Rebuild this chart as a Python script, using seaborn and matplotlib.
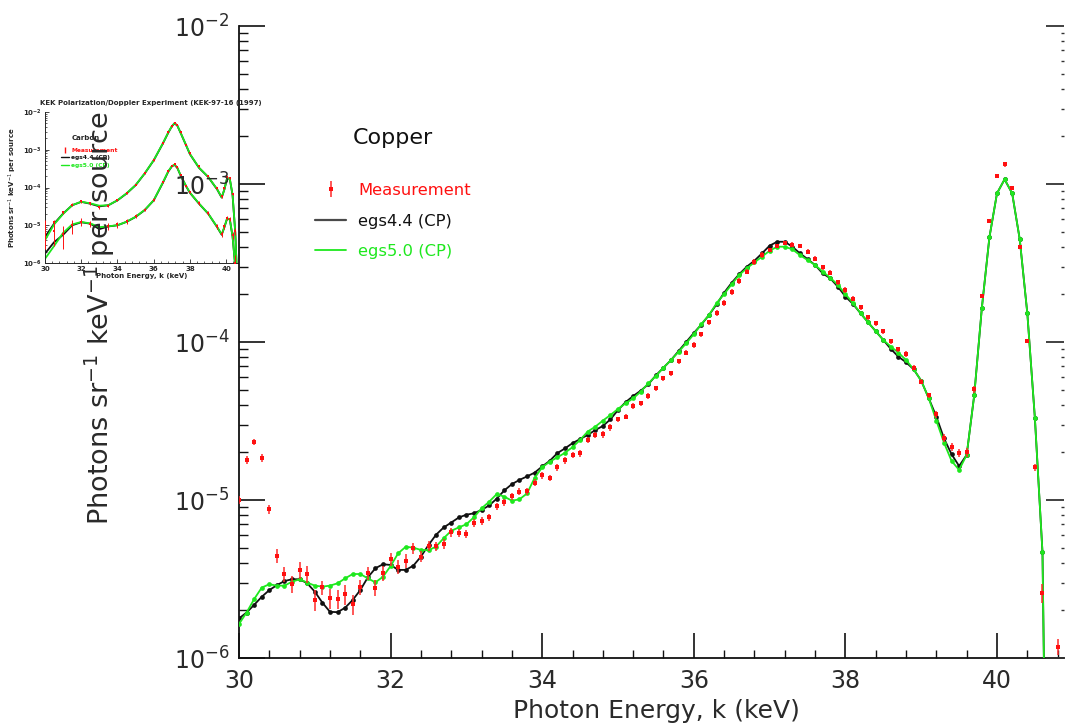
import numpy as np
import pandas as pd
import matplotlib
matplotlib.use("Agg")
import matplotlib.pyplot as plt
import seaborn as sns
from matplotlib.ticker import FixedLocator, LogLocator, NullFormatter, LogFormatterSciNotation
from matplotlib.lines import Line2D

# ---------------- main panel data (Copper) ----------------
sim_energy = [
    30.0, 30.1, 30.2, 30.3, 30.4, 30.5, 30.6, 30.7, 30.8, 30.9,
    31.0, 31.1, 31.2, 31.3, 31.4, 31.5, 31.6, 31.7, 31.8, 31.9,
    32.0, 32.1, 32.2, 32.3, 32.4, 32.5, 32.6, 32.7, 32.8, 32.9,
    33.0, 33.1, 33.2, 33.3, 33.4, 33.5, 33.6, 33.7, 33.8, 33.9,
    34.0, 34.1, 34.2, 34.3, 34.4, 34.5, 34.6, 34.7, 34.8, 34.9,
    35.0, 35.1, 35.2, 35.3, 35.4, 35.5, 35.6, 35.7, 35.8, 35.9,
    36.0, 36.1, 36.2, 36.3, 36.4, 36.5, 36.6, 36.7, 36.8, 36.9,
    37.0, 37.1, 37.2, 37.3, 37.4, 37.5, 37.6, 37.7, 37.8, 37.9,
    38.0, 38.1, 38.2, 38.3, 38.4, 38.5, 38.6, 38.7, 38.8, 38.9,
    39.0, 39.1, 39.2, 39.3, 39.4, 39.5, 39.6, 39.7, 39.8, 39.9,
    40.0, 40.1, 40.2, 40.3, 40.4, 40.5, 40.6, 40.7]

egs44_flux = [
    1.78e-6, 1.94e-6, 2.17e-6, 2.44e-6, 2.69e-6, 2.89e-6, 3.07e-6, 3.15e-6, 3.15e-6, 2.97e-6,
    2.63e-6, 2.24e-6, 1.96e-6, 1.95e-6, 2.08e-6, 2.33e-6, 2.69e-6, 3.24e-6, 3.70e-6, 3.92e-6,
    3.88e-6, 3.61e-6, 3.61e-6, 3.84e-6, 4.38e-6, 5.19e-6, 6.03e-6, 6.70e-6, 7.20e-6, 7.75e-6,
    8.07e-6, 8.24e-6, 8.65e-6, 9.23e-6, 1.02e-5, 1.15e-5, 1.26e-5, 1.34e-5, 1.41e-5, 1.49e-5,
    1.63e-5, 1.77e-5, 1.98e-5, 2.12e-5, 2.29e-5, 2.43e-5, 2.58e-5, 2.77e-5, 2.94e-5, 3.24e-5,
    3.71e-5, 4.16e-5, 4.55e-5, 4.92e-5, 5.40e-5, 6.15e-5, 6.88e-5, 7.69e-5, 8.77e-5, 1.00e-4,
    1.14e-4, 1.29e-4, 1.48e-4, 1.73e-4, 2.05e-4, 2.37e-4, 2.69e-4, 3.00e-4, 3.27e-4, 3.64e-4,
    4.07e-4, 4.31e-4, 4.31e-4, 4.01e-4, 3.64e-4, 3.35e-4, 3.07e-4, 2.72e-4, 2.53e-4, 2.24e-4,
    1.94e-4, 1.74e-4, 1.52e-4, 1.33e-4, 1.17e-4, 1.03e-4, 9.03e-5, 8.07e-5, 7.44e-5, 6.72e-5,
    5.69e-5, 4.40e-5, 3.37e-5, 2.46e-5, 1.95e-5, 1.64e-5, 1.93e-5, 4.62e-5, 1.64e-4, 4.60e-4,
    8.73e-4, 1.07e-3, 8.73e-4, 4.47e-4, 1.52e-4, 3.29e-5, 4.67e-6, 1.0e-9]

egs50_flux = [
    1.64e-6, 1.94e-6, 2.36e-6, 2.79e-6, 2.93e-6, 2.87e-6, 2.87e-6, 3.04e-6, 3.15e-6, 3.00e-6,
    2.87e-6, 2.83e-6, 2.87e-6, 2.97e-6, 3.19e-6, 3.40e-6, 3.40e-6, 3.19e-6, 3.01e-6, 3.27e-6,
    3.82e-6, 4.60e-6, 5.06e-6, 4.99e-6, 4.83e-6, 4.81e-6, 5.07e-6, 5.73e-6, 6.38e-6, 6.71e-6,
    7.02e-6, 7.78e-6, 8.86e-6, 9.75e-6, 1.09e-5, 1.05e-5, 9.90e-6, 1.01e-5, 1.10e-5, 1.38e-5,
    1.61e-5, 1.75e-5, 1.86e-5, 1.99e-5, 2.16e-5, 2.40e-5, 2.71e-5, 2.91e-5, 3.18e-5, 3.45e-5,
    3.77e-5, 4.09e-5, 4.40e-5, 4.85e-5, 5.48e-5, 6.09e-5, 6.88e-5, 7.69e-5, 8.68e-5, 9.81e-5,
    1.12e-4, 1.30e-4, 1.48e-4, 1.76e-4, 2.01e-4, 2.32e-4, 2.66e-4, 2.93e-4, 3.19e-4, 3.47e-4,
    3.78e-4, 4.01e-4, 4.01e-4, 3.86e-4, 3.55e-4, 3.30e-4, 3.07e-4, 2.79e-4, 2.55e-4, 2.30e-4,
    2.01e-4, 1.76e-4, 1.52e-4, 1.33e-4, 1.17e-4, 1.03e-4, 9.34e-5, 8.56e-5, 7.69e-5, 6.72e-5,
    5.69e-5, 4.40e-5, 3.18e-5, 2.31e-5, 1.77e-5, 1.55e-5, 1.93e-5, 4.62e-5, 1.64e-4, 4.60e-4,
    8.73e-4, 1.07e-3, 8.73e-4, 4.47e-4, 1.52e-4, 3.29e-5, 4.67e-6, 1.0e-9]

meas_energy = [
    30.0, 30.1, 30.2, 30.3, 30.4, 30.5, 30.6, 30.7, 30.8, 30.9,
    31.0, 31.1, 31.2, 31.3, 31.4, 31.5, 31.6, 31.7, 31.8, 31.9,
    32.0, 32.1, 32.2, 32.3, 32.4, 32.5, 32.6, 32.7, 32.8, 32.9,
    33.0, 33.1, 33.2, 33.3, 33.4, 33.5, 33.6, 33.7, 33.8, 33.9,
    34.0, 34.1, 34.2, 34.3, 34.4, 34.5, 34.6, 34.7, 34.8, 34.9,
    35.0, 35.1, 35.2, 35.3, 35.4, 35.5, 35.6, 35.7, 35.8, 35.9,
    36.0, 36.1, 36.2, 36.3, 36.4, 36.5, 36.6, 36.7, 36.8, 36.9,
    37.0, 37.1, 37.2, 37.3, 37.4, 37.5, 37.6, 37.7, 37.8, 37.9,
    38.0, 38.1, 38.2, 38.3, 38.4, 38.5, 38.6, 38.7, 38.8, 38.9,
    39.0, 39.1, 39.2, 39.3, 39.4, 39.5, 39.6, 39.7, 39.8, 39.9,
    40.0, 40.1, 40.2, 40.3, 40.4, 40.5, 40.6, 40.7, 40.8]

meas_flux = [
    1.00e-5, 1.79e-5, 2.33e-5, 1.84e-5, 8.73e-6, 4.44e-6, 3.40e-6, 2.94e-6, 3.61e-6, 3.40e-6,
    2.33e-6, 2.80e-6, 2.39e-6, 2.36e-6, 2.53e-6, 2.19e-6, 2.80e-6, 3.44e-6, 2.79e-6, 3.44e-6,
    4.21e-6, 3.78e-6, 4.13e-6, 4.95e-6, 4.38e-6, 5.11e-6, 5.08e-6, 5.28e-6, 6.23e-6, 6.16e-6,
    6.12e-6, 7.15e-6, 7.40e-6, 7.75e-6, 9.12e-6, 9.67e-6, 1.06e-5, 1.13e-5, 1.14e-5, 1.29e-5,
    1.43e-5, 1.38e-5, 1.61e-5, 1.79e-5, 1.93e-5, 1.98e-5, 2.40e-5, 2.58e-5, 2.60e-5, 2.88e-5,
    3.24e-5, 3.37e-5, 3.93e-5, 4.09e-5, 4.55e-5, 5.09e-5, 5.89e-5, 6.34e-5, 7.55e-5, 8.56e-5,
    9.57e-5, 1.12e-4, 1.33e-4, 1.53e-4, 1.77e-4, 2.08e-4, 2.44e-4, 2.79e-4, 3.21e-4, 3.55e-4,
    3.82e-4, 4.05e-4, 4.23e-4, 4.14e-4, 4.05e-4, 3.73e-4, 3.36e-4, 2.98e-4, 2.75e-4, 2.39e-4,
    2.13e-4, 1.88e-4, 1.66e-4, 1.43e-4, 1.31e-4, 1.17e-4, 1.01e-4, 8.97e-5, 8.40e-5, 6.88e-5,
    5.62e-5, 4.59e-5, 3.50e-5, 2.46e-5, 2.17e-5, 1.98e-5, 2.00e-5, 5.02e-5, 1.96e-4, 5.86e-4,
    1.13e-3, 1.33e-3, 9.39e-4, 3.98e-4, 1.02e-4, 1.61e-5, 2.59e-6, 8.0e-7, 1.18e-6]

# relative uncertainty of each measurement, percent
meas_err_pct = [
    6, 6, 5, 6, 7, 10, 11, 12, 12, 12,
    15, 10, 14, 14, 14, 15, 11, 9, 12, 11,
    9, 10, 10, 8, 8, 7, 7, 7, 6, 6,
    6, 6, 6, 5, 5, 5, 5, 5, 5, 5,
    5, 5, 5, 5, 5, 5, 5, 5, 5, 5,
    4, 4, 4, 4, 4, 4, 4, 4, 4, 4,
    4, 4, 4, 4, 4, 4, 4, 4, 4, 4,
    3.5, 3.5, 3.5, 3.5, 3.5, 3.5, 3.5, 3.5, 3.5, 3.5,
    4, 4, 4, 4, 4, 4, 4, 4, 4, 4,
    4, 4, 5, 6, 6, 6, 6, 5, 3, 3,
    3, 3, 3, 3, 3, 5, 14, 12, 12]

# ---------------- inset data (Carbon) ----------------
c_energy = [30.0, 30.5, 31.0, 31.5, 32.0, 32.5, 33.0, 33.5, 34.0, 34.5,
            35.0, 35.5, 36.0, 36.5, 36.8, 37.0, 37.15, 37.3, 37.5, 37.8,
            38.0, 38.5, 39.0, 39.5, 39.75, 39.9, 40.05, 40.2, 40.35, 40.5, 40.65]
c_hi_egs44 = [4.9e-6, 1.10e-5, 2.04e-5, 3.39e-5, 4.17e-5, 3.72e-5, 3.16e-5, 3.39e-5, 4.57e-5, 6.92e-5,
              1.15e-4, 2.34e-4, 5.25e-4, 1.45e-3, 2.82e-3, 4.17e-3, 5.0e-3, 4.37e-3, 2.69e-3, 1.26e-3,
              7.6e-4, 3.31e-4, 1.91e-4, 8.9e-5, 5.4e-5, 8.9e-5, 1.78e-4, 1.66e-4, 6.3e-5, 6.3e-6, 1e-7]
c_hi_egs50 = [4.0e-6, 1.05e-5, 2.0e-5, 3.4e-5, 4.2e-5, 3.8e-5, 3.3e-5, 3.4e-5, 4.6e-5, 7.0e-5,
              1.16e-4, 2.36e-4, 5.3e-4, 1.47e-3, 2.85e-3, 4.2e-3, 5.1e-3, 4.4e-3, 2.7e-3, 1.28e-3,
              7.7e-4, 3.35e-4, 1.93e-4, 9.0e-5, 5.5e-5, 9.0e-5, 1.8e-4, 1.68e-4, 6.4e-5, 6.4e-6, 1e-7]
c_lo_egs44 = [1.78e-6, 3.55e-6, 5.6e-6, 1.0e-5, 1.20e-5, 1.10e-5, 7.9e-6, 9.3e-6, 1.0e-5, 1.23e-5,
              1.66e-5, 2.51e-5, 4.57e-5, 1.32e-4, 2.63e-4, 3.63e-4, 3.98e-4, 3.31e-4, 2.0e-4, 1.05e-4,
              7.2e-5, 3.72e-5, 2.04e-5, 8.9e-6, 5.6e-6, 8.9e-6, 1.51e-5, 1.41e-5, 5.0e-6, 7.9e-7, 1e-8]
c_lo_egs50 = [1.29e-6, 2.82e-6, 6.3e-6, 1.05e-5, 1.22e-5, 1.12e-5, 8.9e-6, 9.4e-6, 1.0e-5, 1.24e-5,
              1.68e-5, 2.55e-5, 4.6e-5, 1.35e-4, 2.68e-4, 3.68e-4, 4.05e-4, 3.35e-4, 2.02e-4, 1.06e-4,
              7.3e-5, 3.75e-5, 2.05e-5, 9.0e-6, 5.7e-6, 9.0e-6, 1.53e-5, 1.43e-5, 5.1e-6, 8.0e-7, 1e-8]
c_hi_meas = [5.2e-6, 1.2e-5, 2.2e-5, 3.5e-5, 4.3e-5, 3.8e-5, 3.0e-5, 3.3e-5, 4.7e-5, 7.2e-5,
             1.2e-4, 2.4e-4, 5.4e-4, 1.5e-3, 2.9e-3, 4.3e-3, 5.2e-3, 4.6e-3, 2.9e-3, 1.35e-3,
             8.2e-4, 3.6e-4, 2.0e-4, 9.5e-5, 5.8e-5, 9.5e-5, 1.9e-4, 1.8e-4, 6.8e-5, 7.0e-6, np.nan]
c_lo_meas = [8.0e-6, 7.0e-6, 6.0e-6, 1.0e-5, 1.25e-5, 1.1e-5, 9.0e-6, 9.5e-6, 1.05e-5, 1.3e-5,
             1.75e-5, 2.6e-5, 4.8e-5, 1.4e-4, 2.7e-4, 3.8e-4, 4.1e-4, 3.5e-4, 2.1e-4, 1.1e-4,
             7.6e-5, 3.9e-5, 2.1e-5, 9.3e-6, 6.0e-6, 9.5e-6, 1.6e-5, 1.5e-5, 5.5e-6, 1.0e-6, np.nan]
c_hi_err_pct = [20, 12, 10, 8, 8, 8, 8, 8, 7, 6, 5, 5, 4, 4, 4, 4, 4, 4, 4, 4,
                4, 5, 5, 6, 8, 6, 5, 5, 8, 20, 20]
c_lo_err_pct = [70, 60, 60, 40, 25, 20, 20, 20, 18, 15, 12, 10, 8, 6, 5, 5, 5, 5, 6, 7,
                8, 10, 12, 15, 20, 15, 12, 12, 20, 60, 60]

# ---------------- styling ----------------
sns.set_style("ticks")
plt.rcParams["font.family"] = ["DejaVu Sans"]
plt.rcParams["mathtext.fontset"] = "dejavusans"
plt.rcParams["axes.unicode_minus"] = False

TXT = "#2a2a2a"
RED = "#ff1010"
GREEN = "#1ee81e"
BLACK = "#111111"
PX = 0.72  # points per pixel at dpi=100

W, H = 1065, 726
fig = plt.figure(figsize=(W / 100, H / 100), dpi=100)

# main axes: spine x 239..1064 px, y 26..658 px
ax = fig.add_axes([239 / W, (H - 658) / H, 825 / W, 632 / H])
ax.set_zorder(2)
ax.patch.set_alpha(0)
ax.set_yscale("log")
ax.set_xlim(30, 30 + 825 / 75.8)
ax.set_ylim(1e-6, 1e-2)

main_sim = pd.DataFrame({"energy": sim_energy, "egs44": egs44_flux, "egs50": egs50_flux})
sns.lineplot(data=main_sim, x="energy", y="egs44", ax=ax, color=BLACK, lw=1.3,
             marker="o", markersize=3.4, markeredgewidth=0, estimator=None, sort=False,
             legend=False, zorder=3)
sns.lineplot(data=main_sim, x="energy", y="egs50", ax=ax, color=GREEN, lw=1.3,
             marker="o", markersize=3.4, markeredgewidth=0, estimator=None, sort=False,
             legend=False, zorder=3.5)
meas = np.array(meas_flux)
meas_err = meas * np.array(meas_err_pct) / 100.0
eb = ax.errorbar(meas_energy, meas, yerr=meas_err, fmt="s", ms=2.2, mew=0, color=RED,
                 ecolor="#ff2828", elinewidth=1.1, capsize=3.6, capthick=1.1, zorder=4)

for s in ["top", "right"]:
    ax.spines[s].set_visible(False)
ax.spines["left"].set_linewidth(1.3)
ax.spines["bottom"].set_linewidth(1.3)
ax.spines["left"].set_color(BLACK)
ax.spines["bottom"].set_color(BLACK)

ax.xaxis.set_major_locator(FixedLocator([30, 32, 34, 36, 38, 40]))
ax.xaxis.set_minor_locator(FixedLocator([30.4, 30.8, 31.2, 31.6, 32.4, 32.8, 33.2, 33.6,
                                         34.4, 34.8, 35.2, 35.6, 36.4, 36.8, 37.2, 37.6,
                                         38.4, 38.8, 39.2, 39.6, 40.4, 40.8]))
ax.yaxis.set_major_locator(LogLocator(base=10, numticks=10))
ax.yaxis.set_minor_locator(LogLocator(base=10, subs=np.arange(2, 10), numticks=20))
ax.yaxis.set_minor_formatter(NullFormatter())
ax.yaxis.set_major_formatter(LogFormatterSciNotation())

ax.tick_params(axis="x", which="major", direction="in", length=25 * PX, width=1.2, color=BLACK,
               labelsize=17, labelcolor=TXT, pad=8, top=False)
ax.tick_params(axis="x", which="minor", direction="in", length=8 * PX, width=1.0, color=BLACK,
               top=False)
ax.tick_params(axis="y", which="major", direction="in", length=26 * PX, width=1.2, color=BLACK,
               labelsize=17, labelcolor=TXT, pad=7, right=False)
ax.tick_params(axis="y", which="minor", direction="in", length=9 * PX, width=1.0, color=BLACK,
               right=False)
ax.set_xlabel("")
ax.set_ylabel("")

# right-hand ticks (shorter) on a twin y axis sharing the same log scale
rax = ax.twinx()
rax.set_zorder(2.5)
rax.patch.set_alpha(0)
rax.set_yscale("log")
rax.set_ylim(1e-6, 1e-2)
for s in rax.spines.values():
    s.set_visible(False)
rax.yaxis.set_major_locator(LogLocator(base=10, numticks=10))
rax.yaxis.set_minor_locator(LogLocator(base=10, subs=np.arange(2, 10), numticks=20))
rax.tick_params(axis="y", which="major", direction="in", length=18 * PX, width=1.3,
                color="#333333", labelright=False, right=True, left=False)
rax.tick_params(axis="y", which="minor", direction="in", length=3 * PX, width=1.0,
                color="#333333", labelright=False, right=True, left=False)

fig.text(656 / W, 1 - 711 / H, "Photon Energy, k (keV)", ha="center", va="center",
         fontsize=18, color=TXT)
fig.text(100 / W, 1 - 318 / H, "Photons sr$^{-1}$ keV$^{-1}$ per source", ha="center",
         va="center", rotation=90, fontsize=19.5, color=TXT, zorder=10)

fig.text(353 / W, 1 - 138 / H, "Copper", ha="left", va="center", fontsize=16, color=BLACK)
h_44 = Line2D([], [], color="#4a4a4a", lw=1.6)
h_50 = Line2D([], [], color=GREEN, lw=1.3)
leg = ax.legend([eb, h_44, h_50], ["Measurement", "egs4.4 (CP)", "egs5.0 (CP)"],
                loc="upper left", bbox_to_anchor=(315 / W, 1 - 183 / H),
                bbox_transform=fig.transFigure, frameon=False, fontsize=11.8,
                handlelength=1.9, handletextpad=0.75, labelspacing=0.95, borderpad=0,
                borderaxespad=0, labelcolor=[RED, BLACK, GREEN])

# ---------------- inset (Carbon) ----------------
ins = fig.add_axes([45 / W, (H - 263) / H, 193 / W, 151 / H])
ins.set_zorder(1)
ins.set_yscale("log")
ins.set_xlim(30, 40.65)
ins.set_ylim(1e-6, 1e-2)
carbon = pd.DataFrame({"energy": c_energy, "hi44": c_hi_egs44, "hi50": c_hi_egs50,
                       "lo44": c_lo_egs44, "lo50": c_lo_egs50})
for col, colr in [("hi44", BLACK), ("lo44", BLACK), ("hi50", GREEN), ("lo50", GREEN)]:
    sns.lineplot(data=carbon, x="energy", y=col, ax=ins, color=colr, lw=1.3,
                 estimator=None, sort=False, legend=False)
for vals, errs in [(c_hi_meas, c_hi_err_pct), (c_lo_meas, c_lo_err_pct)]:
    v = np.array(vals)
    ins.errorbar(c_energy, v, yerr=v * np.array(errs) / 100.0, fmt="s", ms=1.6, mew=0,
                 color=RED, ecolor=RED, elinewidth=0.7, capsize=1.0, zorder=4)
for s in ["top", "right"]:
    ins.spines[s].set_visible(False)
ins.spines["left"].set_linewidth(0.7)
ins.spines["bottom"].set_linewidth(0.7)
ins.xaxis.set_major_locator(FixedLocator([30, 32, 34, 36, 38, 40]))
ins.xaxis.set_minor_locator(FixedLocator([30.4, 30.8, 31.2, 31.6, 32.4, 32.8, 33.2, 33.6,
                                          34.4, 34.8, 35.2, 35.6, 36.4, 36.8, 37.2, 37.6,
                                          38.4, 38.8, 39.2, 39.6, 40.4]))
ins.yaxis.set_major_locator(LogLocator(base=10, numticks=10))
ins.yaxis.set_minor_locator(LogLocator(base=10, subs=np.arange(2, 10), numticks=20))
ins.yaxis.set_minor_formatter(NullFormatter())
ins.tick_params(which="major", direction="in", length=4 * PX, width=0.6, labelsize=5, pad=2)
ins.tick_params(which="minor", direction="in", length=2 * PX, width=0.5)
for lab in ins.get_xticklabels() + ins.get_yticklabels():
    lab.set_fontweight("bold")
ins.set_xlabel("Photon Energy, k (keV)", fontsize=5, fontweight="bold", labelpad=1)
ins.set_ylabel("Photons sr$^{-1}$ keV$^{-1}$ per source", fontsize=5, fontweight="bold",
               labelpad=3)
ins.set_title("KEK Polarization/Doppler Experiment (KEK-97-16 (1997)", fontsize=5,
              fontweight="bold", pad=5, loc="center", x=0.55)
fig.text(72 / W, 1 - 138 / H, "Carbon", fontsize=5, fontweight="bold", va="center")
ih_44 = Line2D([], [], color=BLACK, lw=1.0)
ih_50 = Line2D([], [], color=GREEN, lw=1.0)
ih_m = Line2D([], [], color=RED, marker="|", ms=4, lw=0)
ins.legend([ih_m, ih_44, ih_50], ["Measurement", "egs4.4 (CP)", "egs5.0 (CP)"],
           loc="upper left", bbox_to_anchor=(61 / W, 1 - 148 / H),
           bbox_transform=fig.transFigure, frameon=False,
           handlelength=1.3, handletextpad=0.4, labelspacing=0.35, borderpad=0,
           borderaxespad=0, labelcolor=[RED, BLACK, GREEN],
           prop={"weight": "bold", "size": 4.3})

fig.savefig("out.png", dpi=100)
